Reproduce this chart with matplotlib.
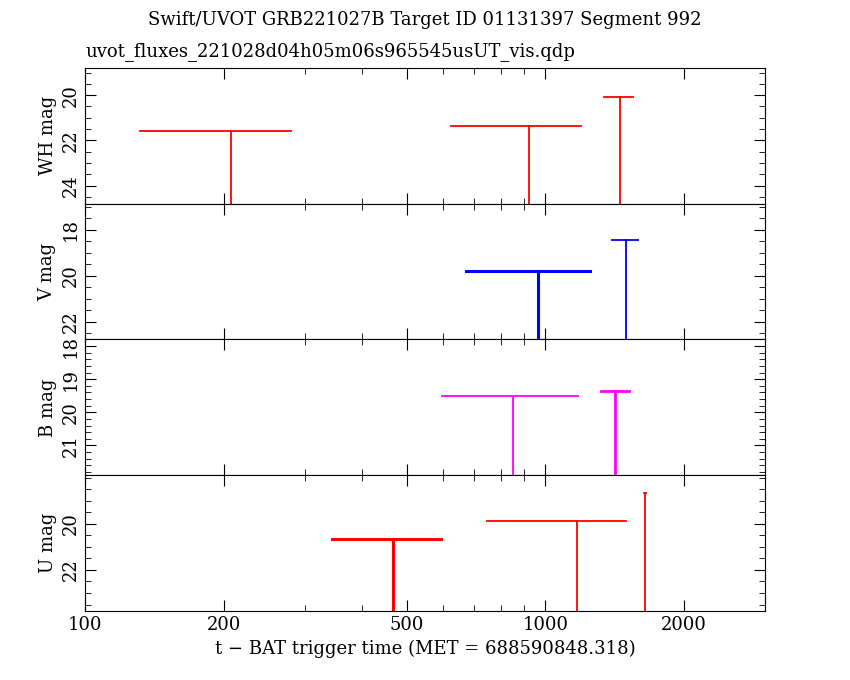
import matplotlib
matplotlib.use("Agg")
import matplotlib.pyplot as plt
from matplotlib.ticker import FixedLocator, NullFormatter

plt.rcParams['font.family'] = ['DejaVu Serif']

bands = ["WH", "V", "B", "U"]
colors = ["red", "blue", "magenta", "red"]
ylims = [(24.8, 18.8), (22.78, 16.87), (21.9, 17.8), (23.78, 17.9)]
yticks = [[20, 22, 24], [18, 20, 22], [18, 19, 20, 21], [20, 22]]
# per band: t_lo, t_hi, t_mid, mag (upper limits)
t_lo = [[131.7, 625, 1343], [673, 1399], [597, 1323], [344, 745, 1640]]
t_hi = [[280.6, 1197, 1552], [1253, 1592], [1179, 1522], [594, 1500, 1656]]
t_mid = [[207.5, 923, 1449], [966, 1500], [851, 1419], [467, 1174, 1648]]
mags = [[21.6, 21.35, 20.1], [19.8, 18.43], [19.5, 19.36], [20.65, 19.9, 18.65]]
widths = [[1.3, 1.3, 1.3], [2.2, 1.3], [1.3, 2.0], [2.2, 1.3, 1.3]]

fig = plt.figure(figsize=(8.5, 6.8), dpi=100)
left, right, bottom, top = 0.1, 0.9, 0.1015, 0.9
h = (top - bottom) / 4
axes = []
for i in range(4):
    ax = fig.add_axes([left, top - (i + 1) * h, right - left, h])
    axes.append(ax)
    ax.set_xscale("log")
    ax.set_xlim(100, 3000)
    ax.set_ylim(*ylims[i])
    lo_y = ylims[i][0]
    for a, b, m, mg, lw in zip(t_lo[i], t_hi[i], t_mid[i], mags[i], widths[i]):
        ax.plot([a, b], [mg, mg], color=colors[i], lw=lw)
        ax.plot([m, m], [mg, lo_y], color=colors[i], lw=lw)
    ax.yaxis.set_major_locator(FixedLocator(yticks[i]))
    step = 0.2 if i == 2 else 0.5
    lo, hi = min(ylims[i]), max(ylims[i])
    n0, n1 = int(lo / step) + 1, int(hi / step)
    ax.yaxis.set_minor_locator(FixedLocator([k * step for k in range(n0, n1 + 1)]))
    ax.set_ylabel(f"{bands[i]} mag", fontsize=13)
    for lab in ax.get_yticklabels():
        lab.set_rotation(90)
        lab.set_va("center")
    ax.tick_params(which="both", direction="in", top=True, right=True, labelsize=13)
    ax.tick_params(which="major", length=8)
    ax.tick_params(which="minor", length=4)
    ax.xaxis.set_major_locator(FixedLocator([100, 200, 500, 1000, 2000]))
    ax.xaxis.set_minor_locator(FixedLocator([300, 400, 600, 700, 800, 900, 3000]))
    if i < 3:
        ax.xaxis.set_major_formatter(NullFormatter())
    else:
        ax.set_xticklabels(["100", "200", "500", "1000", "2000"])
    ax.xaxis.set_minor_formatter(NullFormatter())

axes[-1].set_xlabel("t − BAT trigger time (MET = 688590848.318)", fontsize=13)
fig.text(0.5, 0.963, "Swift/UVOT GRB221027B Target ID 01131397 Segment 992", ha="center", fontsize=13)
fig.text(0.1, 0.918, "uvot_fluxes_221028d04h05m06s965545usUT_vis.qdp", ha="left", fontsize=13)
fig.savefig("out.png", dpi=100)
